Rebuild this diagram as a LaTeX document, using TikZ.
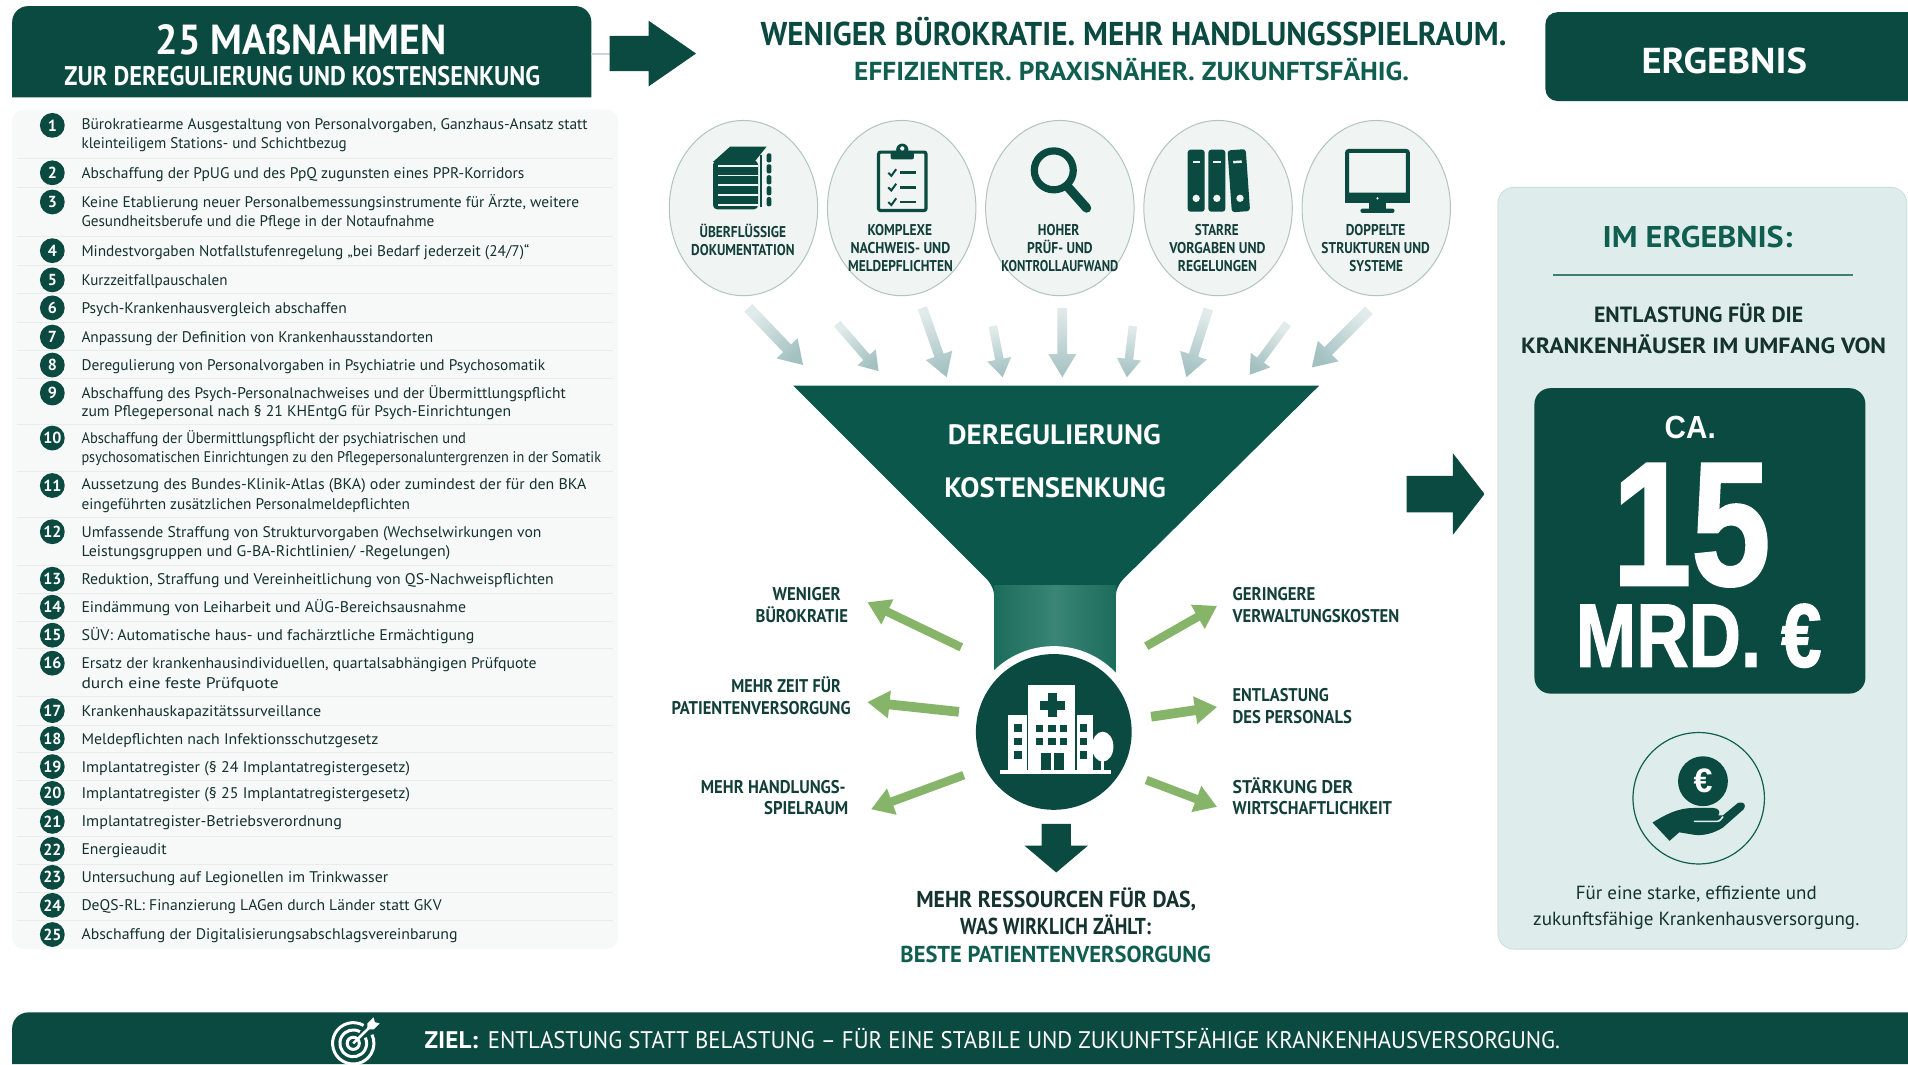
\documentclass[tikz,border=0pt]{standalone}
\usepackage{fontspec}
\usepackage{graphicx}
\usetikzlibrary{calc,shapes.geometric}
\setmainfont{PT Sans}
\newfontfamily\arialf{Liberation Sans}
\newfontfamily\heavyf[BoldFeatures={FakeBold=1.6}]{Liberation Sans}
\definecolor{dark}{HTML}{0A4A40}
\definecolor{funnelc}{HTML}{0C574B}
\definecolor{neckedge}{HTML}{1C6C5C}
\definecolor{neckmid}{HTML}{3A8575}
\definecolor{mid}{HTML}{0F5E50}
\definecolor{ink}{HTML}{14322E}
\definecolor{labelc}{HTML}{123F38}
\definecolor{paneL}{HTML}{DEEDEB}
\definecolor{listbg}{HTML}{F7F9F8}
\definecolor{rowline}{HTML}{E8EDEB}
\definecolor{ellfill}{HTML}{F0F4F3}
\definecolor{ellline}{HTML}{B2C4BF}
\definecolor{greenarr}{HTML}{86B56A}
\definecolor{greyhead}{HTML}{A4C1C2}
\definecolor{greytail}{HTML}{E2EBEB}
\newdimen\bax \newdimen\bay
\newsavebox\lblbox
\newcounter{tcount}
% colour, font, size(pt), x-left, x-right, y-centre, text
\newcommand\lbl[7]{%
  \stepcounter{tcount}%
  \pgfmathsetmacro\lx{(#4+#5)/2}%
  \pgfmathsetmacro\ly{-(#6+.35*#3/.608418)}%
  \node[anchor=base,inner sep=0pt,text=#1] (t\arabic{tcount}) at (\lx,\ly) {%
    \sbox\lblbox{\normalfont#2\fontsize{#3}{#3}\selectfont #7}%
    \pgfmathsetmacro\sx{(#5-#4)*.608418/\the\wd\lblbox}%
    \scalebox{\sx}[1]{\usebox\lblbox}};%
}
\newcommand\lst[3]{\lbl{ink}{}{7.7}{67}{#1}{#2}{#3}}
\newcommand\hdr[5][labelc]{\lbl{#1}{\bfseries}{#2}{#3}{#4}{#5}}
% from, to, shaft width, head width, head length, tail colour, head colour
\newcommand\blockarrow[7]{%
  \pgfextractx{\bax}{\pgfpointdiff{\pgfpointanchor{#1}{center}}{\pgfpointanchor{#2}{center}}}%
  \pgfextracty{\bay}{\pgfpointdiff{\pgfpointanchor{#1}{center}}{\pgfpointanchor{#2}{center}}}%
  \pgfmathsetmacro\bang{atan2(\bay,\bax)}%
  \pgfmathsetmacro\sang{\bang-90}%
  \pgfmathsetmacro\blen{veclen(\bax,\bay)/.608418}%
  \pgfmathsetmacro\bneck{\blen-#5}%
  \begin{scope}[shift={(#1)},rotate=\bang]
    \shade[top color=#7,bottom color=#6,shading angle=\sang]
      (0,-#3/2) -- (\bneck,-#3/2) -- (\bneck,-#4/2) -- (\blen,0) -- (\bneck,#4/2) -- (\bneck,#3/2) -- (0,#3/2) -- cycle;
  \end{scope}%
}
\newcommand\arr[8]{% name, x1,y1,x2,y2, dims, tail, head
  \coordinate (#1s) at (#2,-#3);\coordinate (#1e) at (#4,-#5);%
  \blockarrow{#1s}{#1e}#6{#7}{#8}%
}
\tikzset{
  ell/.style={ellipse,draw=ellline,fill=ellfill,line width=.5pt,minimum width=122*.608418pt,minimum height=144*.608418pt,inner sep=0pt},
  rowsep/.style={draw=rowline,line width=.4pt}
}
\begin{document}
\begin{tikzpicture}[x=.608418pt,y=.608418pt,line join=miter]
\useasboundingbox (0,-874.4) rectangle (1568,0);
\fill[white] (0,-874.4) rectangle (1568,0);
% header
\fill[dark] (10,-80) [rounded corners=8pt] -- (10,-5) -- (486,-5) [sharp corners] -- (486,-80) -- cycle;
\hdr[white]{21}{128}{367}{33}{25 MAßNAHMEN}
\hdr[white]{13.5}{53}{444}{62.5}{ZUR DEREGULIERUNG UND KOSTENSENKUNG}
% top arrow
\coordinate (hdrE) at (486,-44);
\coordinate (tas) at (501,-44);
\draw[draw=ellline!70,line width=1pt] (hdrE) -- (tas);
\coordinate (tae) at (572,-44);
\blockarrow{tas}{tae}{29}{54}{39}{dark}{dark}
% title
\hdr[dark]{16.5}{625}{1238}{28}{WENIGER BÜROKRATIE. MEHR HANDLUNGSSPIELRAUM.}
\hdr[mid]{13}{702}{1158}{59}{EFFIZIENTER. PRAXISNÄHER. ZUKUNFTSFÄHIG.}
% ERGEBNIS
\fill[dark] (1568,-83) [rounded corners=6pt] -- (1270,-83) -- (1270,-10) [sharp corners] -- (1568,-10) -- cycle;
\hdr[white]{18}{1349}{1485}{50}{ERGEBNIS}
% list panel
\fill[listbg,rounded corners=6pt] (10,-90) rectangle (508,-780);
\foreach \yy in {130,154,194,218,241,265,288,311,349,387,425,465,488,511,533,572,596,618,641,664,687,710,733,756}
  \draw[rowsep] (14,-\yy) -- (504,-\yy);
\foreach \n/\yy in {1/103,2/142,3/166,4/206,5/230,6/253,7/277,8/300,9/323,10/360,11/399,12/437,13/476,14/499,15/522,16/545,17/584,18/607,19/630,20/652,21/675,22/698,23/721,24/744,25/768}
  \node[circle,fill=dark,text=white,minimum size=12.4pt,inner sep=0pt,font=\bfseries\fontsize{8}{8}\selectfont] (b\n) at (43,-\yy) {\n};
\lst{483}{102}{Bürokratiearme Ausgestaltung von Personalvorgaben, Ganzhaus-Ansatz statt}
\lst{285}{118}{kleinteiligem Stations- und Schichtbezug}
\lst{431}{142}{Abschaffung der PpUG und des PpQ zugunsten eines PPR-Korridors}
\lst{476}{166}{Keine Etablierung neuer Personalbemessungsinstrumente für Ärzte, weitere}
\lst{357}{182}{Gesundheitsberufe und die Pflege in der Notaufnahme}
\lst{435}{206}{Mindestvorgaben Notfallstufenregelung „bei Bedarf jederzeit (24/7)“}
\lst{187}{230}{Kurzzeitfallpauschalen}
\lst{285}{253}{Psych-Krankenhausvergleich abschaffen}
\lst{356}{277}{Anpassung der Definition von Krankenhausstandorten}
\lst{448}{300}{Deregulierung von Personalvorgaben in Psychiatrie und Psychosomatik}
\lst{465}{323}{Abschaffung des Psych-Personalnachweises und der Übermittlungspflicht}
\lst{420}{338}{zum Pflegepersonal nach § 21 KHEntgG für Psych-Einrichtungen}
\lst{383}{360}{Abschaffung der Übermittlungspflicht der psychiatrischen und}
\lst{494}{376}{psychosomatischen Einrichtungen zu den Pflegepersonaluntergrenzen in der Somatik}
\lst{482}{398}{Aussetzung des Bundes-Klinik-Atlas (BKA) oder zumindest der für den BKA}
\lst{337}{414}{eingeführten zusätzlichen Personalmeldepflichten}
\lst{445}{437}{Umfassende Straffung von Strukturvorgaben (Wechselwirkungen von}
\lst{370}{453}{Leistungsgruppen und G-BA-Richtlinien/ -Regelungen)}
\lst{455}{476}{Reduktion, Straffung und Vereinheitlichung von QS-Nachweispflichten}
\lst{383}{499}{Eindämmung von Leiharbeit und AÜG-Bereichsausnahme}
\lst{390}{522}{SÜV: Automatische haus- und fachärztliche Ermächtigung}
\lst{441}{545}{Ersatz der krankenhausindividuellen, quartalsabhängigen Prüfquote}
\lst{229}{561}{durch eine feste Prüfquote}
\lst{264}{584}{Krankenhauskapazitätssurveillance}
\lst{311}{607}{Meldepflichten nach Infektionsschutzgesetz}
\lst{337}{630}{Implantatregister (§ 24 Implantatregistergesetz)}
\lst{337}{652}{Implantatregister (§ 25 Implantatregistergesetz)}
\lst{281}{675}{Implantatregister-Betriebsverordnung}
\lst{137}{698}{Energieaudit}
\lst{319}{721}{Untersuchung auf Legionellen im Trinkwasser}
\lst{363}{744}{DeQS-RL: Finanzierung LAGen durch Länder statt GKV}
\lst{376}{768}{Abschaffung der Digitalisierungsabschlagsvereinbarung}
% ellipses
\foreach \n/\xx in {1/611,2/741,3/871,4/1001,5/1131}
  \node[ell] (e\n) at (\xx,-171) {};
% stack icon
\fill[dark] (600,-120.5) -- (630,-120.5) -- (620,-133) -- (586,-133) -- cycle;
\fill[dark,rounded corners=2pt] (586,-132) rectangle (623,-172);
\foreach \yy in {135.5,143.5,151.5,159.5,167.5}
  \fill[ellfill] (590,-\yy) rectangle (623,-\yy-1.5);
\draw[dark,line width=1.3pt] (625.5,-127) -- (625.5,-170);
\foreach \yy in {126,135,144,153,162}
  \fill[dark,rounded corners=1pt] (630,-\yy) rectangle (634,-\yy-7.5);
% clipboard icon
\draw[dark,line width=1.6pt,fill=ellfill,rounded corners=1pt] (722,-125) rectangle (761,-173);
\fill[dark,rounded corners=1pt] (732,-124) rectangle (751,-131);
\fill[dark] (741.5,-123) circle (5);
\fill[ellfill] (741.5,-122) circle (1.8);
\foreach \yy in {142,154,166}{
  \draw[dark,line width=1pt] (730,-\yy) -- (732.5,-\yy-2.5) -- (736.5,-\yy+3);
  \draw[dark,line width=1.3pt] (740,-\yy) -- (753,-\yy);
}
% magnifier icon
\draw[dark,line width=3.6pt] (866,-140) circle (16);
\draw[dark,line width=4.6pt,line cap=round] (877,-153) -- (893,-171);
% binders icon
\foreach \a/\b in {976/990,993/1007}{
  \fill[dark,rounded corners=1.5pt] (\a,-123) rectangle (\b,-174);
  \fill[ellfill] (\a+4,-132) rectangle (\b-4,-134);
  \fill[ellfill] ({(\a+\b)/2},-163) circle (3);
}
\begin{scope}[shift={(1018,-148)},rotate=4]
  \fill[dark,rounded corners=1.5pt] (-7.5,25) rectangle (7.5,-26);
  \fill[ellfill] (-3.5,16) rectangle (3.5,14);
  \fill[ellfill] (0,-15) circle (3);
\end{scope}
% monitor icon
\draw[dark,line width=2pt,rounded corners=1pt] (1107,-124) rectangle (1157,-160);
\fill[dark] (1105,-159) rectangle (1159,-167);
\fill[ellfill] (1132,-163) circle (1);
\fill[dark] (1125,-167) rectangle (1139,-172);
\fill[dark,rounded corners=1pt] (1118,-171.5) rectangle (1146,-175);
% ellipse labels
\hdr{7.8}{575}{646}{190.5}{ÜBERFLÜSSIGE}
\hdr{7.8}{568}{653}{205.5}{DOKUMENTATION}
\hdr{7.8}{713}{766}{189}{KOMPLEXE}
\hdr{7.8}{699}{781}{204}{NACHWEIS- UND}
\hdr{7.8}{697}{783}{219}{MELDEPFLICHTEN}
\hdr{7.8}{853}{887}{189}{HOHER}
\hdr{7.8}{844}{898}{204}{PRÜF- UND}
\hdr{7.8}{823}{919}{219}{KONTROLLAUFWAND}
\hdr{7.8}{982}{1018}{189}{STARRE}
\hdr{7.8}{961}{1040}{204}{VORGABEN UND}
\hdr{7.8}{968}{1033}{219}{REGELUNGEN}
\hdr{7.8}{1106}{1155}{189}{DOPPELTE}
\hdr{7.8}{1086}{1175}{204}{STRUKTUREN UND}
\hdr{7.8}{1109}{1153}{219}{SYSTEME}
% funnel arrows
\arr{fa}{615}{253}{660}{300}{{9}{24}{19}}{greytail}{greyhead}
\arr{fb}{688}{266}{722}{305}{{7}{20}{15}}{greytail}{greyhead}
\arr{fc}{758}{253}{778}{310}{{8}{23}{19}}{greytail}{greyhead}
\arr{fd}{816}{268}{824}{310}{{7}{20}{15}}{greytail}{greyhead}
\arr{ff}{873}{253}{873}{310}{{8}{23}{19}}{greytail}{greyhead}
\arr{fg}{931}{268}{926}{310}{{7}{20}{15}}{greytail}{greyhead}
\arr{fh}{993}{254}{975}{310}{{8}{23}{19}}{greytail}{greyhead}
\arr{fi}{1058}{266}{1027}{308}{{7}{20}{15}}{greytail}{greyhead}
\arr{fj}{1125}{255}{1078}{302}{{9}{24}{19}}{greytail}{greyhead}
% funnel
\fill[funnelc] (652,-317) -- (1084,-317) -- (924,-475) .. controls (919,-480) and (917,-485) .. (917,-490) -- (817,-490) .. controls (817,-485) and (815,-480) .. (810,-475) -- cycle;
\shade[left color=neckedge,right color=neckedge,middle color=neckmid] (817,-481) rectangle (917,-570);
\fill[white] (866,-601.5) circle (70.5);
\fill[dark] (866,-601.5) circle (64);
\hdr[white]{14}{779}{954}{357}{DEREGULIERUNG}
\hdr[white]{14}{776}{958}{401}{KOSTENSENKUNG}
% hospital icon
\fill[white] (845,-563) rectangle (883.5,-633);
\fill[white] (828,-587.4) rectangle (843.8,-633);
\fill[white] (885,-587.4) rectangle (898,-633);
\fill[dark] (861.2,-569.5) rectangle (868.7,-589.5);
\fill[dark] (855,-575.8) rectangle (875,-583.3);
\foreach \xa/\xb in {851.4/857.5,861.6/867.6,871.2/877.2}\foreach \ya/\yb in {595.8/601.9,606.4/612.4}
  \fill[dark] (\xa,-\ya) rectangle (\xb,-\yb);
\fill[dark] (855.4,-618.6) rectangle (874.4,-633);
\fill[white] (863.5,-619) rectangle (866.3,-633);
\foreach \ya/\yb in {595/601.3,606.4/612.4,617.3/624}{
  \fill[dark] (833.6,-\ya) rectangle (840,-\yb);
  \fill[dark] (887.8,-\ya) rectangle (893.3,-\yb);
}
\fill[white] (906.2,-613.6) ellipse (8.8 and 12.3);
\fill[white] (905.2,-622) rectangle (907.2,-633);
\fill[white] (821.9,-632.9) rectangle (912.8,-636.4);
% green arrows
\arr{la}{790}{532}{713}{495}{{7}{23}{18}}{greenarr}{greenarr}
\arr{lb}{788}{585}{713}{577}{{8}{23}{18}}{greenarr}{greenarr}
\arr{lc}{792}{637}{716}{665}{{7}{23}{18}}{greenarr}{greenarr}
\arr{ra}{942}{531}{1000}{498}{{7}{23}{18}}{greenarr}{greenarr}
\arr{rb}{946}{589}{1000}{581}{{8}{23}{18}}{greenarr}{greenarr}
\arr{rc}{942}{641}{1000}{663}{{7}{23}{18}}{greenarr}{greenarr}
% side labels
\hdr{9.2}{635}{691}{488}{WENIGER}
\hdr{9.2}{621}{697}{506}{BÜROKRATIE}
\hdr{9.2}{601}{691}{564}{MEHR ZEIT FÜR}
\hdr{9.2}{552}{699}{582}{PATIENTENVERSORGUNG}
\hdr{9.2}{576}{695}{647}{MEHR HANDLUNGS-}
\hdr{9.2}{628}{697}{664}{SPIELRAUM}
\hdr{9.2}{1013}{1081}{488}{GERINGERE}
\hdr{9.2}{1013}{1150}{506}{VERWALTUNGSKOSTEN}
\hdr{9.2}{1013}{1092}{571}{ENTLASTUNG}
\hdr{9.2}{1013}{1111}{589}{DES PERSONALS}
\hdr{9.2}{1013}{1112}{647}{STÄRKUNG DER}
\hdr{9.2}{1013}{1144}{664}{WIRTSCHAFTLICHKEIT}
% down arrow and bottom text
\coordinate (das) at (868,-677);
\coordinate (dae) at (868,-717);
\blockarrow{das}{dae}{24}{52}{22}{dark}{dark}
\hdr[ink]{11.5}{753}{983}{739}{MEHR RESSOURCEN FÜR DAS,}
\hdr[ink]{11.5}{789}{946}{761}{WAS WIRKLICH ZÄHLT:}
\hdr[mid]{11.5}{740}{995}{784}{BESTE PATIENTENVERSORGUNG}
% right arrow
\coordinate (ras) at (1156,-406);
\coordinate (rae) at (1220,-406);
\blockarrow{ras}{rae}{30}{67}{26}{dark}{dark}
% right panel
\fill[paneL,draw=paneL!90!dark,line width=.4pt,rounded corners=8pt] (1231,-154) rectangle (1567,-780);
\hdr[mid]{15}{1317}{1473}{195}{IM ERGEBNIS:}
\coordinate (rl) at (1276,-226);\coordinate (rr) at (1523,-226);
\draw[mid!80,line width=.6pt] (rl) -- (rr);
\hdr[ink]{11}{1310}{1482}{259}{ENTLASTUNG FÜR DIE}
\hdr[ink]{11}{1250}{1550}{284}{KRANKENHÄUSER IM UMFANG VON}
\fill[dark,rounded corners=8pt] (1261,-319) rectangle (1533,-570);
\lbl{white}{\arialf\bfseries}{16}{1368}{1410}{351}{CA.}
\lbl{white}{\heavyf\bfseries}{88}{1325}{1455}{430}{15}
\lbl{white}{\heavyf\bfseries}{45}{1295}{1497}{522}{MRD. €}
% hand icon
\node[circle,draw=mid,line width=.6pt,minimum size=108*.608418pt,inner sep=0pt] (hc) at (1396,-656) {};
\node[circle,fill=dark,text=white,minimum size=41*.608418pt,inner sep=0pt,font=\arialf\bfseries\fontsize{17}{17}\selectfont] (coin) at (1399.5,-642) {€};
\fill[dark] (1358,-676) .. controls (1368,-670) and (1378,-664) .. (1392,-664) -- (1408,-664)
  .. controls (1413,-664) and (1414,-668) .. (1412,-670) -- (1416,-670) -- (1428,-660)
  .. controls (1434,-658) and (1435,-662) .. (1433,-665) -- (1416,-680)
  .. controls (1408,-685) and (1400,-687) .. (1392,-686) -- (1380,-684) -- (1372,-691) -- cycle;
\draw[paneL,line width=.8pt] (1392,-675) -- (1409,-675) .. controls (1413,-675) .. (1416,-671);
\lbl{ink}{}{9.5}{1295}{1493}{734}{Für eine starke, effiziente und}
\lbl{ink}{}{9.5}{1260}{1528}{755}{zukunftsfähige Krankenhausversorgung.}
% footer
\fill[dark] (1568,-874.4) -- (10,-874.4) [rounded corners=8pt] -- (10,-832) [sharp corners] -- (1568,-832) -- cycle;
\draw[white,line width=1.5pt] (290.3,-857.4) ++(60:17) arc (60:385:17);
\draw[white,line width=1.5pt] (290.3,-857.4) ++(60:11) arc (60:385:11);
\draw[white,line width=1.5pt] (290.3,-857.4) circle (5);
\draw[white,line width=1.3pt] (290.3,-857.4) -- (304,-844);
\fill[white] (302,-846) -- (302,-841) -- (307,-836) -- (308,-840) -- (312,-841) -- (307,-846) -- cycle;
\hdr[white]{12}{349}{393}{855}{ZIEL:}
\lbl{white}{}{12}{401}{1282}{855}{ENTLASTUNG STATT BELASTUNG – FÜR EINE STABILE UND ZUKUNFTSFÄHIGE KRANKENHAUSVERSORGUNG.}
\end{tikzpicture}
\end{document}
